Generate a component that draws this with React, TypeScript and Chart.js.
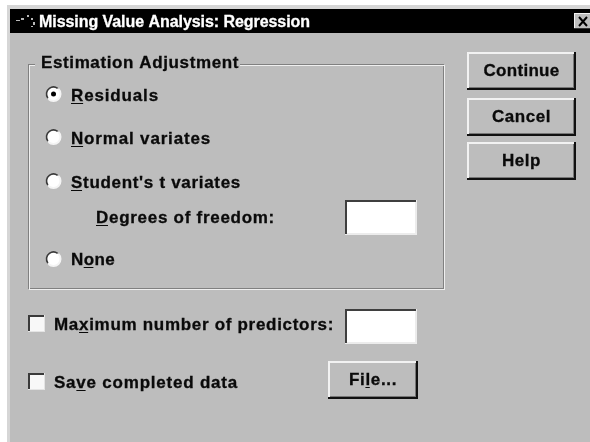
import React, { useEffect, useRef } from "react";
import { Chart, registerables } from "chart.js";

Chart.register(...registerables);

const titleText = "Missing Value Analysis: Regression";
const groupTitle = "Estimation Adjustment";
const radioLabels = ["Residuals", "Normal variates", "Student's t variates", "None"];
const radioMnemonics = [0, 0, 0, 1];
const radioChecked = [true, false, false, false];
const radioX = [53.5, 53.5, 53.5, 53.5];
const radioY = [94, 137, 181, 259];
const radioBaseline = [101, 144, 188, 265];
const radioTextWidth = [88, 140, 170, 44];
const buttonLabels = ["Continue", "Cancel", "Help"];
const buttonTextWidth = [76, 59, 39];
const buttonY = [52, 98, 142];
const checkLabels = ["Maximum number of predictors:", "Save completed data"];
const checkMnemonics = [2, 2];
const checkY = [315, 373];
const checkTextWidth = [280, 184];
const degreesLabel = "Degrees of freedom:";
const fileLabel = "File...";

const BG = "#bdbdbd";
const FONT = "bold 17px 'Liberation Sans'";
const TITLE_FONT = "bold 16px 'Liberation Sans'";

function fit(ctx: any, t: string, w: number) {
  ctx.letterSpacing = "0px";
  const m = ctx.measureText(t).width;
  ctx.letterSpacing = ((w - m) / t.length).toFixed(3) + "px";
}

function label(
  ctx: any,
  t: string,
  x: number,
  y: number,
  w: number,
  u: number | null,
  color = "#0a0a0a",
  font = FONT
) {
  ctx.save();
  ctx.font = font;
  ctx.fillStyle = color;
  ctx.strokeStyle = color;
  ctx.lineWidth = 0.3;
  ctx.textBaseline = "alphabetic";
  ctx.textAlign = "left";
  ctx.filter = "blur(0.3px)";
  fit(ctx, t, w);
  ctx.fillText(t, x, y);
  ctx.strokeText(t, x, y);
  if (u !== null) {
    const a = ctx.measureText(t.slice(0, u)).width;
    const b = ctx.measureText(t.slice(0, u + 1)).width;
    ctx.fillRect(x + a, y + 2, b - a - 1, 1);
  }
  ctx.restore();
}

function button(ctx: any, x: number, y: number, w: number, h: number, t: string, tw: number, u: number | null) {
  ctx.fillStyle = BG;
  ctx.fillRect(x, y, w, h);
  ctx.fillStyle = "#f2f2f2";
  ctx.fillRect(x, y, w, 2);
  ctx.fillRect(x, y, 2, h);
  ctx.fillStyle = "#111";
  ctx.fillRect(x, y + h - 2, w, 2);
  ctx.fillRect(x + w - 2, y, 2, h);
  ctx.fillStyle = "#777";
  ctx.fillRect(x + 2, y + h - 3, w - 4, 1);
  ctx.fillRect(x + w - 3, y + 2, 1, h - 4);
  label(ctx, t, x + (w - tw) / 2, y + h / 2 + 5, tw, u);
}

function input(ctx: any, x: number, y: number, w: number, h: number) {
  ctx.fillStyle = "#fff";
  ctx.fillRect(x, y, w, h);
  ctx.fillStyle = "#ececec";
  ctx.fillRect(x, y + h - 2, w, 2);
  ctx.fillRect(x + w - 2, y, 2, h);
  ctx.fillStyle = "#3f3f3f";
  ctx.fillRect(x, y, w - 1, 2);
  ctx.fillRect(x, y, 2, h - 1);
}

const dialogPlugin = {
  id: "dialog",
  beforeDatasetsDraw(chart: any) {
    const ctx = chart.ctx;
    ctx.save();
    ctx.fillStyle = "#ffffff";
    ctx.fillRect(0, 0, 590, 442);
    ctx.fillStyle = "#d6d6d6";
    ctx.fillRect(7, 5, 583, 437);
    ctx.fillStyle = BG;
    ctx.fillRect(10, 9, 580, 433);
    ctx.fillStyle = "#000";
    ctx.fillRect(10, 9, 580, 24);
    ctx.fillStyle = "#b8b8b8";
    ctx.fillRect(16, 20, 4, 1);
    ctx.fillRect(21, 18, 3, 2);
    ctx.fillRect(27, 15, 2, 2);
    ctx.fillRect(31, 18, 2, 2);
    ctx.fillRect(33, 22, 2, 3);
    ctx.fillRect(31, 26, 2, 1);
    label(ctx, titleText, 39, 27, 271, null, "#ffffff", TITLE_FONT);
    ctx.fillStyle = BG;
    ctx.fillRect(574, 13, 16, 16);
    ctx.fillStyle = "#f2f2f2";
    ctx.fillRect(574, 13, 16, 1);
    ctx.fillRect(574, 13, 1, 16);
    ctx.fillStyle = "#333";
    ctx.fillRect(574, 28, 16, 1);
    ctx.strokeStyle = "#000";
    ctx.lineWidth = 2;
    ctx.beginPath();
    ctx.moveTo(579, 17);
    ctx.lineTo(587, 26);
    ctx.moveTo(587, 17);
    ctx.lineTo(579, 26);
    ctx.stroke();
    ctx.strokeStyle = "#808080";
    ctx.lineWidth = 1;
    ctx.strokeRect(28.5, 64.5, 415, 224);
    ctx.strokeStyle = "#efefef";
    ctx.strokeRect(29.5, 65.5, 415, 224);
    ctx.fillStyle = BG;
    ctx.fillRect(35, 60, 205, 8);
    label(ctx, groupTitle, 41, 68, 198, null);
    radioLabels.forEach((t, i) => label(ctx, t, 71, radioBaseline[i], radioTextWidth[i], radioMnemonics[i]));
    label(ctx, degreesLabel, 96, 223, 179, 0);
    input(ctx, 345, 200, 72, 35);
    buttonLabels.forEach((t, i) => button(ctx, 467, buttonY[i], 109, 38, t, buttonTextWidth[i], null));
    checkLabels.forEach((t, i) => {
      const y = checkY[i];
      ctx.fillStyle = "#f8f8f8";
      ctx.fillRect(28, y, 17, 17);
      ctx.fillStyle = "#3a3a3a";
      ctx.fillRect(28, y, 16, 2);
      ctx.fillRect(28, y, 2, 16);
      ctx.fillStyle = "#e4e4e4";
      ctx.fillRect(28, y + 16, 17, 1);
      ctx.fillRect(44, y, 1, 17);
      label(ctx, t, 54, y + 15, checkTextWidth[i], checkMnemonics[i]);
    });
    input(ctx, 345, 309, 72, 35);
    button(ctx, 328, 361, 90, 38, fileLabel, 48, 2);
    ctx.restore();
  },
  afterDatasetsDraw(chart: any) {
    const ctx = chart.ctx;
    const xs = chart.scales.x;
    const ys = chart.scales.y;
    radioY.forEach((v, i) => {
      const cx = xs.getPixelForValue(radioX[i]);
      const cy = ys.getPixelForValue(v);
      ctx.save();
      ctx.lineWidth = 2;
      ctx.strokeStyle = "#f4f4f4";
      ctx.beginPath();
      ctx.arc(cx, cy, 7, -Math.PI * 0.25, Math.PI * 0.75);
      ctx.stroke();
      ctx.strokeStyle = "#3a3a3a";
      ctx.lineWidth = 1.6;
      ctx.beginPath();
      ctx.arc(cx, cy, 7, Math.PI * 0.8, Math.PI * 1.7);
      ctx.stroke();
      if (radioChecked[i]) {
        ctx.fillStyle = "#000";
        ctx.beginPath();
        ctx.arc(cx, cy, 2.5, 0, Math.PI * 2);
        ctx.fill();
      }
      ctx.restore();
    });
  },
};

export default function App() {
  const ref = useRef<HTMLCanvasElement>(null);
  useEffect(() => {
    const chart = new Chart(ref.current as HTMLCanvasElement, {
      type: "scatter",
      data: {
        datasets: [
          {
            label: "radio",
            data: radioY.map((y, i) => ({ x: radioX[i], y })),
            pointStyle: "circle",
            pointRadius: 7,
            pointHoverRadius: 7,
            pointBackgroundColor: "#ffffff",
            pointBorderWidth: 0,
          },
        ],
      },
      options: {
        animation: false,
        responsive: false,
        events: [],
        layout: { padding: 0, autoPadding: false },
        plugins: { legend: { display: false }, tooltip: { enabled: false }, title: { display: false } },
        scales: {
          x: { type: "linear", min: 0, max: 590, display: false },
          y: { type: "linear", min: 0, max: 442, reverse: true, display: false },
        },
      },
      plugins: [dialogPlugin],
    } as any);
    return () => chart.destroy();
  }, []);
  return (
    <div style={{ position: "fixed", left: 0, top: 0, width: 590, height: 442 }}>
      <canvas ref={ref} width={590} height={442} style={{ display: "block" }} />
    </div>
  );
}
